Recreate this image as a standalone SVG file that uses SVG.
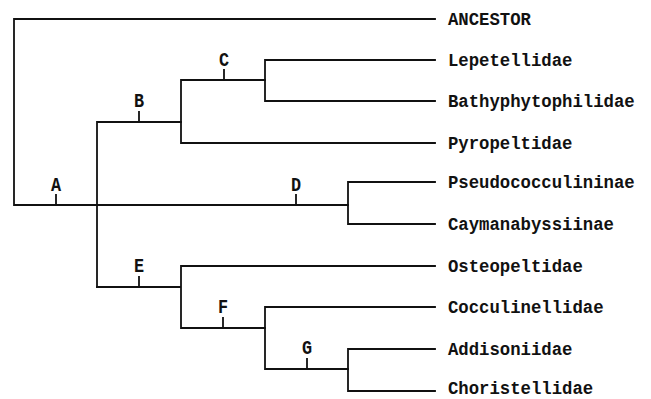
<svg xmlns="http://www.w3.org/2000/svg" width="651" height="399" viewBox="0 0 651 399">
<style>
.e{fill:none;stroke:#111;stroke-width:1.8;stroke-linecap:square}
.t{font-family:"Liberation Mono",monospace;font-size:19px;font-weight:bold;fill:#111}
.n{font-family:"Liberation Mono",monospace;font-size:21px;font-weight:bold;fill:#111;text-anchor:middle}
</style>
<rect width="651" height="399" fill="#fff"/>
<g id="connectors" class="e">
<path d="M435,19H14V205H348"/>
<path d="M348,182V224M348,182H435M348,224H435"/>
<path d="M97,287V122H181"/>
<path d="M181,80V143H435M181,80H265"/>
<path d="M265,60V101M265,60H435M265,101H435"/>
<path d="M97,287H181M181,266V328M181,266H435M181,328H265"/>
<path d="M265,307V369M265,307H435M265,369H348"/>
<path d="M348,349V391M348,349H435M348,391H435"/>
<path d="M56,195V205M139,112V122M224,70V80M296,195V205M139,277V287M223,318V328M307,359V369"/>
</g>
<g id="node-A" transform="translate(56,191) scale(0.8,1)"><text class="n">A</text></g>
<g id="node-B" transform="translate(139,107) scale(0.8,1)"><text class="n">B</text></g>
<g id="node-C" transform="translate(224,66) scale(0.8,1)"><text class="n">C</text></g>
<g id="node-D" transform="translate(296,191) scale(0.8,1)"><text class="n">D</text></g>
<g id="node-E" transform="translate(139,272) scale(0.8,1)"><text class="n">E</text></g>
<g id="node-F" transform="translate(223,313) scale(0.8,1)"><text class="n">F</text></g>
<g id="node-G" transform="translate(307,354) scale(0.8,1)"><text class="n">G</text></g>
<g id="taxa" transform="translate(448,0) scale(0.91,1)">
<g id="taxon-ancestor"><text class="t" x="0" y="25">ANCESTOR</text></g>
<g id="taxon-lepetellidae"><text class="t" x="0" y="66">Lepetellidae</text></g>
<g id="taxon-bathyphytophilidae"><text class="t" x="0" y="107">Bathyphytophilidae</text></g>
<g id="taxon-pyropeltidae"><text class="t" x="0" y="149">Pyropeltidae</text></g>
<g id="taxon-pseudococculininae"><text class="t" x="0" y="188">Pseudococculininae</text></g>
<g id="taxon-caymanabyssiinae"><text class="t" x="0" y="230">Caymanabyssiinae</text></g>
<g id="taxon-osteopeltidae"><text class="t" x="0" y="272">Osteopeltidae</text></g>
<g id="taxon-cocculinellidae"><text class="t" x="0" y="313">Cocculinellidae</text></g>
<g id="taxon-addisoniidae"><text class="t" x="0" y="355">Addisoniidae</text></g>
<g id="taxon-choristellidae"><text class="t" x="0" y="394">Choristellidae</text></g>
</g>
</svg>
